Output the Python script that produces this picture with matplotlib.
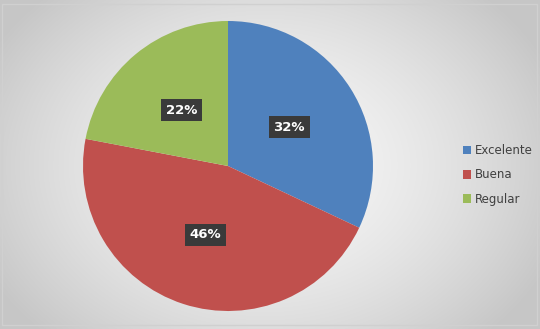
import numpy as np
import matplotlib.pyplot as plt

categories = ['Excelente', 'Buena', 'Regular']
values = [32, 46, 22]
colors = ['#4F81BD', '#C0504D', '#9BBB59']

fig = plt.figure(figsize=(5.4, 3.29), dpi=100)

# fondo con degradado radial
bg = fig.add_axes([0, 0, 1, 1])
yy, xx = np.mgrid[0:329, 0:540]
d = np.sqrt(((xx - 265) / 300.0) ** 2 + ((yy - 165) / 230.0) ** 2)
shade = np.clip(0.97 - 0.18 * d ** 1.6, 0.78, 0.97)
bg.imshow(np.dstack([shade, shade, shade]), extent=[0, 540, 329, 0], aspect='auto')
bg.add_patch(plt.Rectangle((2, 4), 535, 321, fill=False, edgecolor='#d0d0d0', lw=1))
bg.set_xlim(0, 540)
bg.set_ylim(329, 0)
bg.axis('off')

ax = fig.add_axes([83 / 540, 18 / 329, 290 / 540, 290 / 329])
wedges, texts, autotexts = ax.pie(values, colors=colors, startangle=90, counterclock=False,
                                  autopct='%1.0f%%', pctdistance=0.5,
                                  wedgeprops=dict(linewidth=0))
for t in autotexts:
    t.set_color('white')
    t.set_fontweight('bold')
    t.set_fontsize(9.5)
    t.set_bbox(dict(boxstyle='square,pad=0.35', facecolor='#3a3a3a', edgecolor='none'))
ax.set_xlim(-1, 1)
ax.set_ylim(-1, 1)
ax.set_aspect('equal')

leg = fig.legend(wedges, categories, loc='center left', bbox_to_anchor=(452 / 540, (329 - 175) / 329),
                 frameon=False, fontsize=8.5, handlelength=0.7, handleheight=0.7,
                 handletextpad=0.3, labelspacing=0.95, labelcolor='#404040')

fig.savefig('out.png', dpi=100)
